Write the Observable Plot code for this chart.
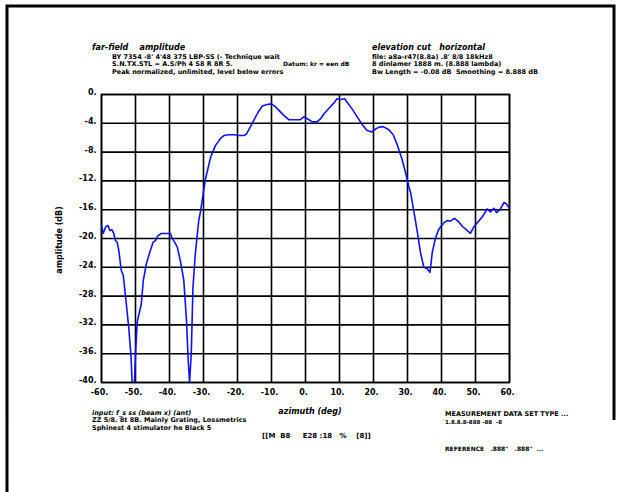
<!DOCTYPE html>
<html>
<head>
<meta charset="utf-8">
<script src="https://cdn.jsdelivr.net/npm/d3@7"></script>
<script src="https://cdn.jsdelivr.net/npm/@observablehq/plot@0.6"></script>
<style>
html,body{margin:0;padding:0;background:#fff;}
#chart{position:relative;width:623px;height:492px;}
</style>
</head>
<body>
<div id="chart"></div>
<script>
const azimuth = [-60,-59.5,-58.8,-58.1,-57.5,-56.9,-56.4,-55.9,-55.4,-54.9,-54.2,-53.6,-52.9,-52.0,-51.3,-51.0,-50.3,-50.0,-49.5,-48.3,-47.7,-46.8,-45.8,-44.8,-44.1,-43.4,-42.4,-41.2,-39.7,-39.2,-38.5,-37.7,-36.8,-35.8,-35.0,-34.5,-34.1,-33.6,-33.1,-32.4,-31.4,-30.9,-29.4,-27.9,-26.5,-25.0,-24.0,-22.6,-21.1,-19.6,-18.1,-17.4,-16.2,-15.2,-14.0,-12.7,-11.3,-10.1,-9.1,-7.8,-6.4,-4.9,-2.9,-1.5,-0.5,1.0,2.0,3.4,4.4,5.4,6.9,8.3,9.3,10.3,11.5,12.3,13.7,15.2,16.7,18.1,19.6,20.6,21.8,23.0,24.5,25.8,27.0,28.4,29.4,30.4,30.9,31.9,32.9,33.8,34.8,35.8,36.6,37.3,38.2,39.2,40.7,41.8,42.6,43.8,45.1,46.1,47.1,48.5,49.5,50.7,52.0,53.4,54.4,55.4,56.2,57.2,58.4,59.1,59.8];
const amplitude = [-18.2,-19.3,-18.4,-18.2,-18.9,-18.8,-19.3,-20.3,-20.5,-21.7,-24.4,-25.1,-28.2,-32.3,-36.5,-40,-40,-36,-31.6,-29.1,-25.8,-23.5,-21.9,-20.5,-20.3,-19.6,-19.3,-19.3,-19.3,-20.0,-20.5,-21.2,-23.1,-25.8,-31.4,-36.9,-40,-36,-26.8,-22.1,-17.5,-16.3,-11.7,-8.7,-7.1,-6.1,-5.7,-5.6,-5.6,-5.7,-5.7,-5.5,-4.5,-3.6,-2.5,-1.6,-1.4,-1.3,-1.6,-2.2,-2.9,-3.5,-3.5,-3.5,-3.1,-3.5,-3.8,-3.8,-3.4,-2.7,-1.9,-1.2,-0.6,-0.7,-0.6,-1.1,-2.0,-3.1,-4.2,-5.0,-5.2,-4.8,-4.5,-4.5,-4.9,-5.6,-7.0,-9.0,-10.8,-12.8,-13.6,-16.3,-19.1,-21.9,-24.0,-24.2,-24.7,-21.9,-20.0,-18.7,-17.8,-17.5,-17.6,-17.2,-17.7,-18.3,-18.7,-19.3,-18.4,-17.7,-17.0,-15.9,-16.3,-15.8,-16.4,-16.0,-15.0,-15.2,-15.7];
const xTicks = [-60,-50,-40,-30,-20,-10,0,10,20,30,40,50,60];
const yTicks = [0,-4,-8,-12,-16,-20,-24,-28,-32,-36,-40];
const xLabel = "azimuth (deg)";
const yLabel = "amplitude (dB)";
const headerLeft = ["far-field    amplitude","BY 7354 -8' 4'48 375 LBP-SS (- Technique wait","S.N.TX.STL = A.S/Ph 4 S8 R 8R 5.","Peak normalized, unlimited, level below errors"];
const headerLeftExtra = "Datum: kr = een dB";
const headerRight = ["elevation cut   horizontal","file: a8a-r47(8.8a) .8' 8/8 18kHz8","8 dinlamer 1888 m. (8.888 lambda)","Bw Length = -0.08 dB  Smoothing = 8.888 dB"];
const footerLeft = ["input: f_s ss (beam x) (ant)","ZZ 5/8. 8t 8B. Mainly Grating, Lossmetrics","Sphinest 4 stimulator he Black 5"];
const footerRight = ["MEASUREMENT DATA SET TYPE ...","1.8.8.8-888 -88  -8","REFERENCE   .888\"   .888\"  ..."];

const data = azimuth.map((a,i)=>({az:a, db:amplitude[i]}));
const fmt = d => d + ".";
const F = "DejaVu Sans, sans-serif";

const plot = Plot.plot({
  width: 623, height: 492,
  marginLeft: 101, marginRight: 114, marginTop: 94, marginBottom: 110,
  style: {background: "#fff", fontFamily: F, fontWeight: "bold", fontSize: "8px", color: "#000"},
  x: {domain: [-60, 60]},
  y: {domain: [-40, 0]},
  marks: [
    Plot.ruleX(xTicks, {stroke: "#000", strokeWidth: 1.6}),
    Plot.ruleY(yTicks, {stroke: "#000", strokeWidth: 1.6}),
    Plot.frame({stroke: "#000", strokeWidth: 1.6}),
    Plot.line(data, {x: "az", y: "db", stroke: "#1010ff", strokeWidth: 1.6, clip: true}),
    Plot.axisX(xTicks, {tickSize: 0, tickPadding: 7, tickFormat: fmt, fontSize: 8, fontWeight: "bold", label: null, dx: -2}),
    Plot.axisY(yTicks, {tickSize: 0, tickPadding: 5, tickFormat: fmt, fontSize: 8, fontWeight: "bold", label: null, dy: -2})
  ]
});
document.getElementById("chart").appendChild(plot);

const svg = d3.select(plot);
// outer frame
svg.append("path").attr("d","M7,420 V6 H614 V420").attr("fill","none").attr("stroke","#000").attr("stroke-width",3);
svg.append("line").attr("x1",7).attr("x2",7).attr("y1",420).attr("y2",492).attr("stroke","#000").attr("stroke-width",3);

function txt(x,y,s,size,anchor,extra){
  const t = svg.append("text").attr("x",x).attr("y",y).text(s)
    .attr("font-family",F).attr("font-weight","bold").attr("font-size",size||7)
    .attr("text-anchor",anchor||"start").attr("fill","#000");
  if (extra) extra(t);
  return t;
}
txt(310, 414, xLabel, 8, "middle", t=>t.attr("font-style","italic"));
txt(0, 0, yLabel, 8, "middle", t=>t.attr("transform","translate(62,240) rotate(-90)"));

txt(92, 50, headerLeft[0], 8, "start", t=>t.attr("font-style","italic"));
txt(112, 59, headerLeft[1], 6.5);
txt(112, 66, headerLeft[2], 6.5);
txt(283, 66, headerLeftExtra, 6);
txt(112, 74, headerLeft[3], 6.5);
txt(372, 50, headerRight[0], 8, "start", t=>t.attr("font-style","italic"));
txt(372, 59, headerRight[1], 6.5);
txt(372, 66, headerRight[2], 6.5);
txt(372, 74, headerRight[3], 6.5);

txt(92, 415, footerLeft[0], 6.5, "start", t=>t.attr("font-style","italic"));
txt(92, 422, footerLeft[1], 6.5);
txt(92, 430, footerLeft[2], 6.5);
txt(262, 438, "[[M  B8     E28 :18   %    [8]]", 7);
txt(445, 416, footerRight[0], 6.5);
txt(445, 424, footerRight[1], 5.5);
txt(445, 451, footerRight[2], 6);
</script>
</body>
</html>
